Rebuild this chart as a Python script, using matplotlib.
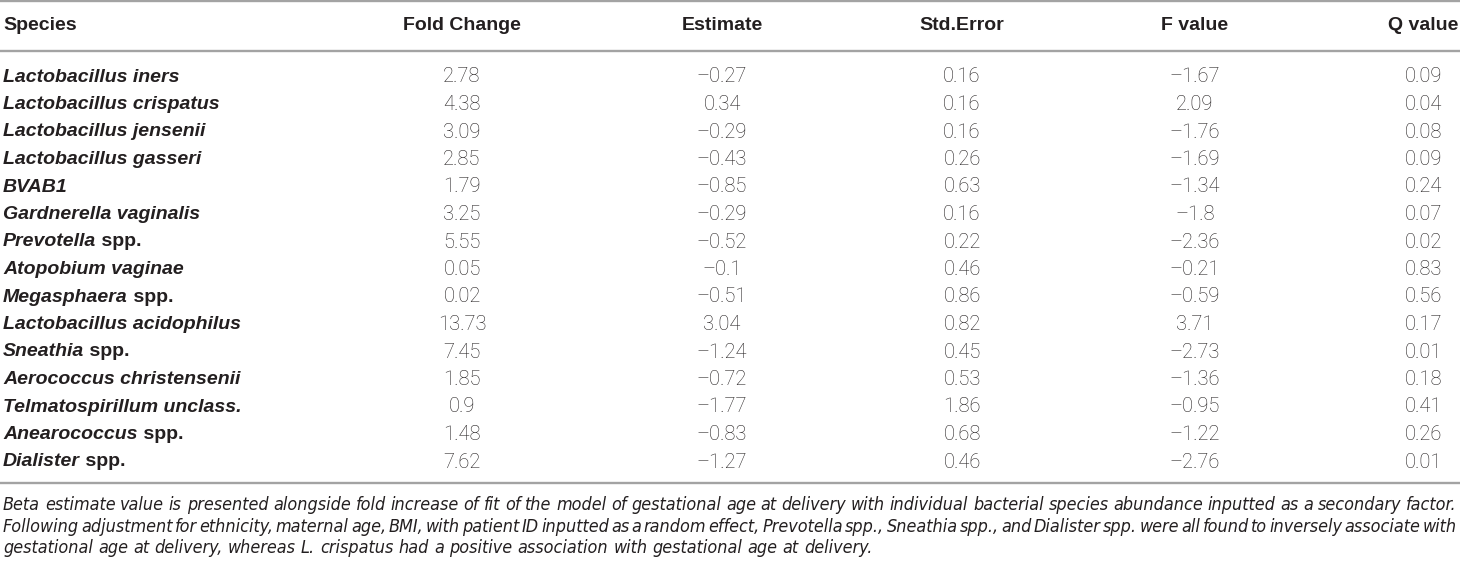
"""Table: species associations with gestational age at delivery."""
import matplotlib
matplotlib.use("Agg")
import matplotlib.pyplot as plt
from matplotlib import font_manager as fm

species = [
    "Lactobacillus iners", "Lactobacillus crispatus", "Lactobacillus jensenii",
    "Lactobacillus gasseri", "BVAB1", "Gardnerella vaginalis", "Prevotella spp.",
    "Atopobium vaginae", "Megasphaera spp.", "Lactobacillus acidophilus",
    "Sneathia spp.", "Aerococcus christensenii", "Telmatospirillum unclass.",
    "Anearococcus spp.", "Dialister spp.",
]
fold_change = [2.78, 4.38, 3.09, 2.85, 1.79, 3.25, 5.55, 0.05, 0.02, 13.73, 7.45, 1.85, 0.9, 1.48, 7.62]
estimate = [-0.27, 0.34, -0.29, -0.43, -0.85, -0.29, -0.52, -0.1, -0.51, 3.04, -1.24, -0.72, -1.77, -0.83, -1.27]
std_error = [0.16, 0.16, 0.16, 0.26, 0.63, 0.16, 0.22, 0.46, 0.86, 0.82, 0.45, 0.53, 1.86, 0.68, 0.46]
f_value = [-1.67, 2.09, -1.76, -1.69, -1.34, -1.8, -2.36, -0.21, -0.59, 3.71, -2.73, -1.36, -0.95, -1.22, -2.76]
q_value = [0.09, 0.04, 0.08, 0.09, 0.24, 0.07, 0.02, 0.83, 0.56, 0.17, 0.01, 0.18, 0.41, 0.26, 0.01]
headers = ["Species", "Fold Change", "Estimate", "Std.Error", "F value", "Q value"]
caption = [
    "Beta estimate value is presented alongside fold increase of fit of the model of gestational age at "
    "delivery with individual bacterial species abundance inputted as a secondary factor.",
    "Following adjustment for ethnicity, maternal age, BMI, with patient ID inputted as a random effect, "
    "Prevotella spp., Sneathia spp., and Dialister spp. were all found to inversely associate with",
    "gestational age at delivery, whereas L. crispatus had a positive association with gestational age at delivery.",
]

W, H = 1460, 567
TXT = "#231f20"
RULE = "#a3a3a3"
col_x = [3, 462, 722, 962, 1195, 1423]
row_y0, row_dy = 77, 27.5


def find_family(cands, max_weight=None, stretch=None):
    names = {}
    for f in fm.fontManager.ttflist:
        names.setdefault(f.name, []).append(f)
    for c in cands:
        for f in names.get(c, []):
            w = f.weight if isinstance(f.weight, int) else 400
            if max_weight is not None and w > max_weight:
                continue
            if stretch is not None and f.stretch != stretch:
                continue
            return c
    return None


bold_fam = find_family(["Liberation Sans", "Arial", "DejaVu Sans"]) or "DejaVu Sans"
light_fam = find_family(["Roboto", "Lato", "Open Sans", "Inter", "Noto Sans"], max_weight=300)
light_w = "light" if light_fam else "normal"
light_fam = light_fam or bold_fam
narrow_fam = find_family(["Liberation Sans Narrow"])
cap_stretch = "normal"
if narrow_fam is None:
    narrow_fam = find_family(["DejaVu Sans"], stretch="condensed")
    cap_stretch = "condensed"
if narrow_fam is None:
    narrow_fam, cap_stretch = bold_fam, "normal"


def fmt(v):
    return f"{v:g}".replace("-", "\u2013")


fig = plt.figure(figsize=(W / 100, H / 100), dpi=100)
ax = fig.add_axes([0, 0, 1, 1])
ax.set_xlim(0, W)
ax.set_ylim(H, 0)
ax.axis("off")
renderer = fig.canvas.get_renderer()

for y in (1, 51, 483):
    ax.plot([0, W], [y, y], color=RULE, lw=1.7, solid_capstyle="butt")

for i, h in enumerate(headers):
    ax.text(col_x[i], 26, h, ha="left" if i == 0 else "center", va="center",
            fontsize=14, fontweight="bold", family=bold_fam, color=TXT)

columns = [fold_change, estimate, std_error, f_value, q_value]
for r, name in enumerate(species):
    y = row_y0 + r * row_dy
    if name.endswith(" spp."):
        italic, rest = name[:-5], " spp."
    else:
        italic, rest = name, ""
    t = ax.text(col_x[0], y, italic, ha="left", va="center", fontsize=14,
                fontweight="bold", fontstyle="italic", family=bold_fam, color=TXT)
    if rest:
        bb = t.get_window_extent(renderer)
        ax.text(bb.x1, y, rest, ha="left", va="center", fontsize=14,
                fontweight="bold", family=bold_fam, color=TXT)
    for c, vals in enumerate(columns):
        ax.text(col_x[c + 1], y, fmt(vals[r]), ha="center", va="center",
                fontsize=14.5, fontweight=light_w, family=light_fam, color=TXT)

# justified caption lines (last line left aligned)
cap_y = [505, 527, 548]
left, right = 3, 1457
for li, line in enumerate(caption):
    words = line.split(" ")
    kw = dict(va="center", ha="left", fontsize=12.9, fontstyle="italic",
              family=narrow_fam, stretch=cap_stretch, color=TXT)
    arts = [ax.text(0, cap_y[li], w, **kw) for w in words]
    widths = [a.get_window_extent(renderer).width for a in arts]
    if li < len(caption) - 1:
        gap = (right - left - sum(widths)) / (len(words) - 1)
    else:
        sp = ax.text(0, 0, "a a", **kw)
        sp2 = ax.text(0, 0, "aa", **kw)
        gap = sp.get_window_extent(renderer).width - sp2.get_window_extent(renderer).width
        sp.remove()
        sp2.remove()
    x = left
    for a, w in zip(arts, widths):
        a.set_x(x)
        x += w + gap

fig.savefig("out.png", dpi=100)
